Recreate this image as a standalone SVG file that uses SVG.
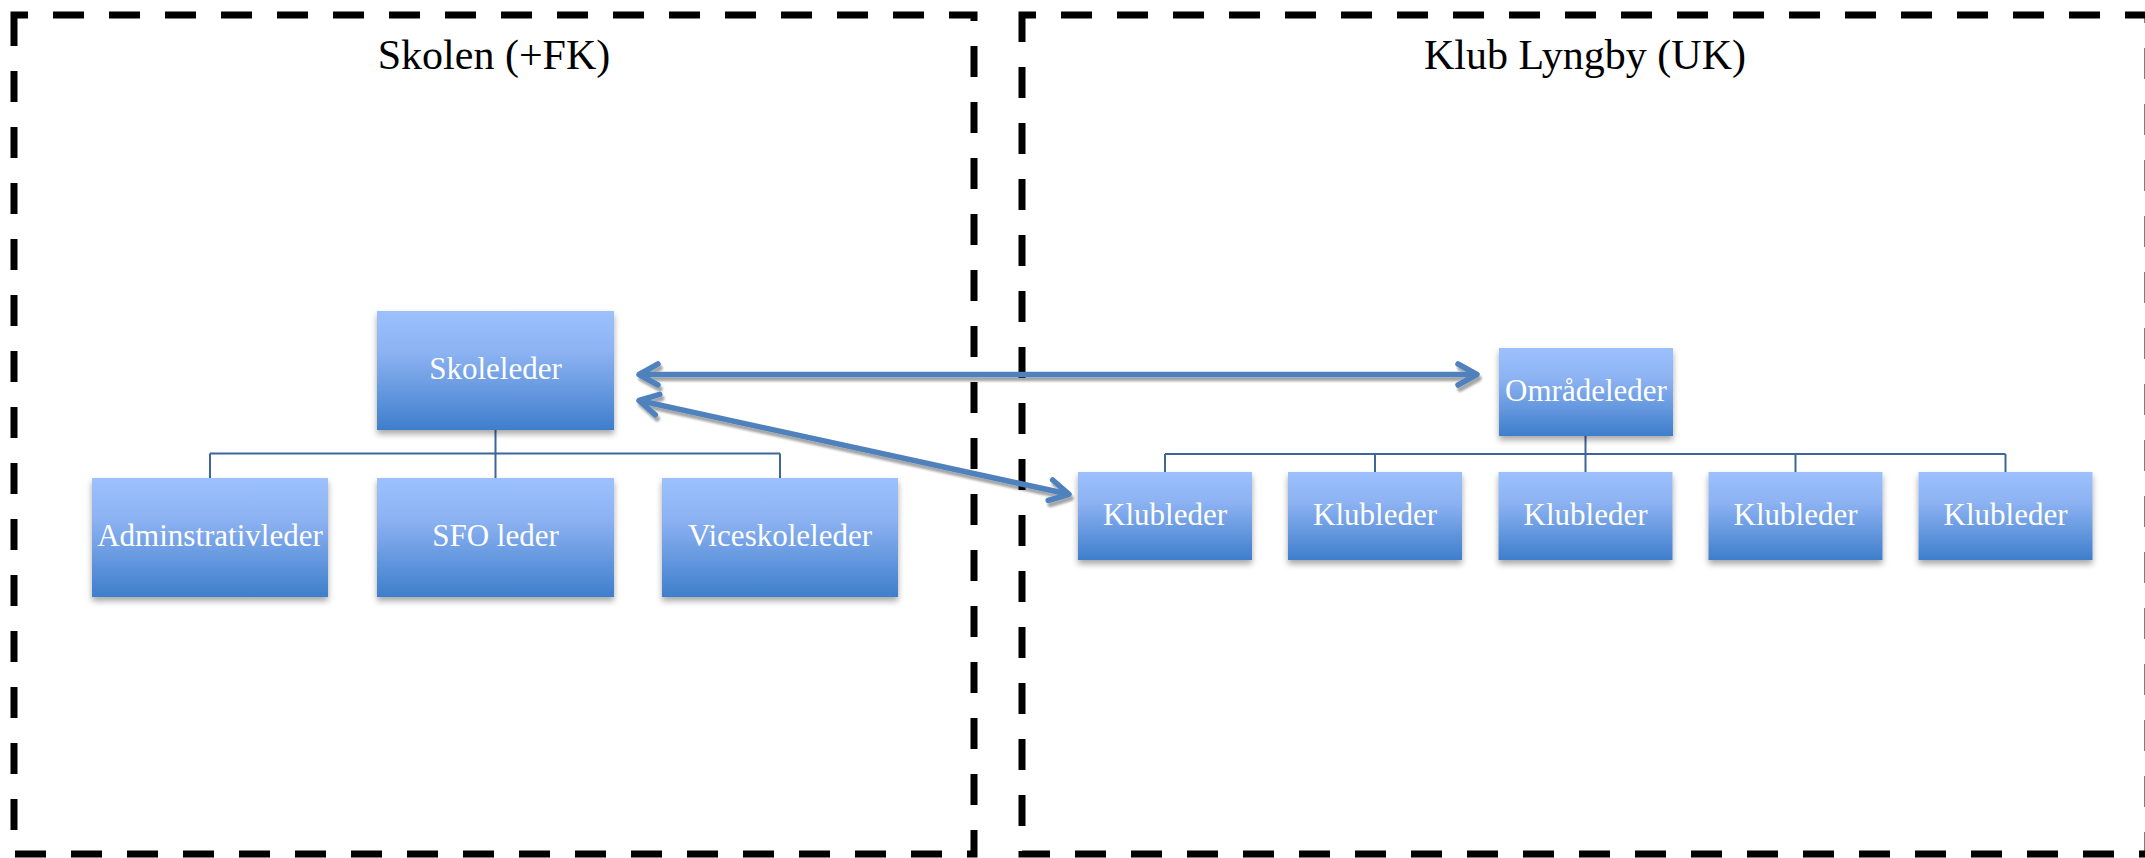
<svg xmlns="http://www.w3.org/2000/svg" width="2145" height="858" viewBox="0 0 2145 858">
<defs>
<linearGradient id="boxGrad" x1="0" y1="0" x2="0" y2="1">
<stop offset="0" stop-color="#9cc1fd"/>
<stop offset="0.35" stop-color="#8cb2f2"/>
<stop offset="1" stop-color="#3e7ecc"/>
</linearGradient>
<filter id="boxShadow" x="-10%" y="-10%" width="120%" height="130%">
<feDropShadow dx="0" dy="4" stdDeviation="3" flood-color="#000" flood-opacity="0.35"/>
</filter>
<filter id="arrowShadow" x="-5%" y="-50%" width="110%" height="200%">
<feDropShadow dx="2" dy="4" stdDeviation="1" flood-color="#000" flood-opacity="0.35"/>
</filter>
<marker id="chev" markerUnits="userSpaceOnUse" markerWidth="40" markerHeight="40" viewBox="-30 -20 40 40" refX="0" refY="0" orient="auto-start-reverse">
<path d="M-19 -10.5 L0 0 L-19 10.5" fill="none" stroke="#4f81bd" stroke-width="5.5" stroke-linecap="round" stroke-linejoin="round"/>
</marker>
</defs>
<style>
.frame{fill:none;stroke:#000;stroke-width:7;stroke-dasharray:31 25;}
.title{font-family:"Liberation Serif","Times New Roman",serif;font-size:42px;fill:#000;text-anchor:middle;}
.box{fill:url(#boxGrad);filter:url(#boxShadow);}
.lbl{font-family:"Liberation Serif","Times New Roman",serif;font-size:31px;fill:#fff;text-anchor:middle;}
.tree{fill:none;stroke:#3d669a;stroke-width:2;}
.arrow{fill:none;stroke:#4f81bd;stroke-width:5.5;marker-start:url(#chev);marker-end:url(#chev);}
</style>
<rect width="2145" height="858" fill="#fff"/>
<g id="frame-skolen">
<rect class="frame" x="14" y="15" width="960" height="839" stroke-dashoffset="17"/>
<text class="title" x="494" y="69">Skolen (+FK)</text>
</g>
<g id="frame-klub">
<rect class="frame" x="1022" y="15" width="1126" height="839" stroke-dashoffset="17"/>
<text class="title" x="1585" y="69">Klub Lyngby (UK)</text>
</g>
<g id="connectors">
<path class="tree" d="M495.5 430 V453.5 M210 453.5 H780 M210 453.5 V478 M495.5 453.5 V478 M780 453.5 V478"/>
<path class="tree" d="M1585.5 436 V454 M1165 454 H2005.5 M1165 454 V472 M1375 454 V472 M1585.5 454 V472 M1795.5 454 V472 M2005.5 454 V472"/>
<g filter="url(#arrowShadow)">
<line class="arrow" x1="639" y1="374.5" x2="1477" y2="374.5"/>
<line class="arrow" x1="639" y1="400.5" x2="1069" y2="494.3"/>
</g>
</g>
<g id="node-skoleleder">
<rect class="box" x="377" y="311" width="237" height="119"/>
<text class="lbl" x="495.5" y="379">Skoleleder</text>
</g>
<g id="node-adminstrativleder">
<rect class="box" x="92" y="478" width="236" height="119"/>
<text class="lbl" x="210" y="546">Adminstrativleder</text>
</g>
<g id="node-sfo">
<rect class="box" x="377" y="478" width="237" height="119"/>
<text class="lbl" x="495.5" y="546">SFO leder</text>
</g>
<g id="node-viceskoleleder">
<rect class="box" x="662" y="478" width="236" height="119"/>
<text class="lbl" x="780" y="546">Viceskoleleder</text>
</g>
<g id="node-omraadeleder">
<rect class="box" x="1499" y="348" width="174" height="88"/>
<text class="lbl" x="1586" y="401">Områdeleder</text>
</g>
<g id="node-klubleder-1">
<rect class="box" x="1078" y="472" width="174" height="88"/>
<text class="lbl" x="1165" y="525">Klubleder</text>
</g>
<g id="node-klubleder-2">
<rect class="box" x="1288" y="472" width="174" height="88"/>
<text class="lbl" x="1375" y="525">Klubleder</text>
</g>
<g id="node-klubleder-3">
<rect class="box" x="1498.5" y="472" width="174" height="88"/>
<text class="lbl" x="1585.5" y="525">Klubleder</text>
</g>
<g id="node-klubleder-4">
<rect class="box" x="1708.5" y="472" width="174" height="88"/>
<text class="lbl" x="1795.5" y="525">Klubleder</text>
</g>
<g id="node-klubleder-5">
<rect class="box" x="1918.5" y="472" width="174" height="88"/>
<text class="lbl" x="2005.5" y="525">Klubleder</text>
</g>
</svg>
